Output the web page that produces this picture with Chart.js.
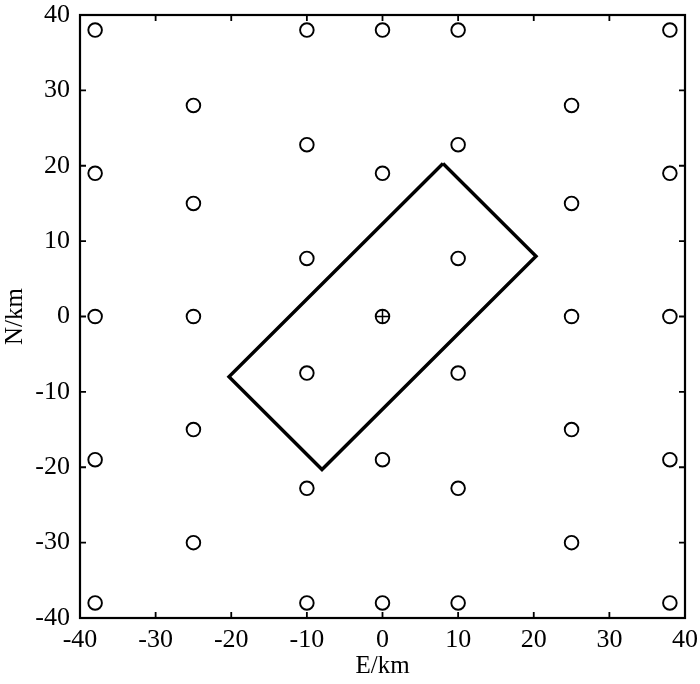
<!DOCTYPE html>
<html>
<head>
<meta charset="utf-8">
<script src="https://cdn.jsdelivr.net/npm/chart.js@4"></script>
<style>
  html, body { margin: 0; padding: 0; background: #fff; }
  #wrap { width: 700px; height: 684px; }
</style>
</head>
<body>
<div id="wrap"><canvas id="chart"></canvas></div>
<script>
// station positions (km)
const stationE = [-38, -10, 0, 10, 38,
                  -25, 25,
                  -10, 10,
                  -38, 0, 38,
                  -25, 25,
                  -10, 10,
                  -38, -25, 25, 38,
                  -10, 10,
                  -25, 25,
                  -38, 0, 38,
                  -10, 10,
                  -25, 25,
                  -38, -10, 0, 10, 38];
const stationN = [38, 38, 38, 38, 38,
                  28, 28,
                  22.8, 22.8,
                  19, 19, 19,
                  15, 15,
                  7.7, 7.7,
                  0, 0, 0, 0,
                  -7.5, -7.5,
                  -15, -15,
                  -19, -19, -19,
                  -22.8, -22.8,
                  -30, -30,
                  -38, -38, -38, -38, -38];

// epicentre
const epiE = [0];
const epiN = [0];

// fault rectangle corners (closed)
const faultE = [8, 20.3, -8, -20.3, 8];
const faultN = [20.3, 8, -20.3, -8, 20.3];

const tickValues = [-40, -30, -20, -10, 0, 10, 20, 30, 40];

const toPts = (xs, ys) => xs.map((x, i) => ({ x: x, y: ys[i] }));

const FONT = "'Liberation Serif', 'Times New Roman', serif";

const framePlugin = {
    id: 'frame',
    afterDraw(chart) {
        const { ctx, chartArea: a, scales } = chart;
        const len = 6;
        ctx.save();
        ctx.strokeStyle = '#000';
        ctx.lineWidth = 1.8;
        ctx.beginPath();
        tickValues.forEach(v => {
            const px = scales.x.getPixelForValue(v);
            ctx.moveTo(px, a.bottom); ctx.lineTo(px, a.bottom - len);
            ctx.moveTo(px, a.top);    ctx.lineTo(px, a.top + len);
            const py = scales.y.getPixelForValue(v);
            ctx.moveTo(a.left, py);  ctx.lineTo(a.left + len, py);
            ctx.moveTo(a.right, py); ctx.lineTo(a.right - len, py);
        });
        ctx.stroke();
        ctx.lineWidth = 2.2;
        ctx.strokeRect(a.left, a.top, a.right - a.left, a.bottom - a.top);
        ctx.restore();
    }
};

new Chart(document.getElementById('chart'), {
    type: 'scatter',
    data: {
        datasets: [
            {
                label: 'fault',
                data: toPts(faultE, faultN),
                showLine: true,
                borderColor: '#000',
                borderWidth: 3.4,
                pointRadius: 0,
                fill: false,
                tension: 0
            },
            {
                label: 'stations',
                data: toPts(stationE, stationN),
                pointStyle: 'circle',
                pointRadius: 6.8,
                borderWidth: 1.9,
                borderColor: '#000',
                backgroundColor: 'rgba(0,0,0,0)'
            },
            {
                label: 'epicentre',
                data: toPts(epiE, epiN),
                pointStyle: 'circle',
                pointRadius: 6.8,
                borderWidth: 1.9,
                borderColor: '#000',
                backgroundColor: 'rgba(0,0,0,0)'
            },
            {
                label: 'epicentre cross',
                data: toPts(epiE, epiN),
                pointStyle: 'cross',
                pointRadius: 6.8,
                borderWidth: 1.5,
                borderColor: '#000'
            }
        ]
    },
    options: {
        responsive: true,
        maintainAspectRatio: false,
        animation: false,
        layout: { padding: { top: 15, right: 15, left: 0, bottom: 0 } },
        plugins: {
            legend: { display: false },
            tooltip: { enabled: false }
        },
        scales: {
            x: {
                type: 'linear',
                min: -40, max: 40,
                afterFit: s => { s.height = 66; s.paddingLeft = 0; s.paddingRight = 0; },
                afterBuildTicks: s => { s.ticks = tickValues.map(v => ({ value: v })); },
                ticks: { color: '#000', padding: 7, font: { family: FONT, size: 26 } },
                grid: { display: false, drawTicks: false },
                border: { display: false },
                title: { display: true, text: 'E/km', color: '#000', padding: { top: 0, bottom: 3 }, font: { family: FONT, size: 25 } }
            },
            y: {
                type: 'linear',
                min: -40, max: 40,
                afterFit: s => { s.width = 80; s.paddingTop = 0; s.paddingBottom = 0; },
                afterBuildTicks: s => { s.ticks = tickValues.map(v => ({ value: v })); },
                ticks: { color: '#000', padding: 10, font: { family: FONT, size: 26 } },
                grid: { display: false, drawTicks: false },
                border: { display: false },
                title: { display: true, text: 'N/km', color: '#000', padding: { top: 0, bottom: 0 }, font: { family: FONT, size: 25 } }
            }
        }
    },
    plugins: [framePlugin]
});
</script>
</body>
</html>
